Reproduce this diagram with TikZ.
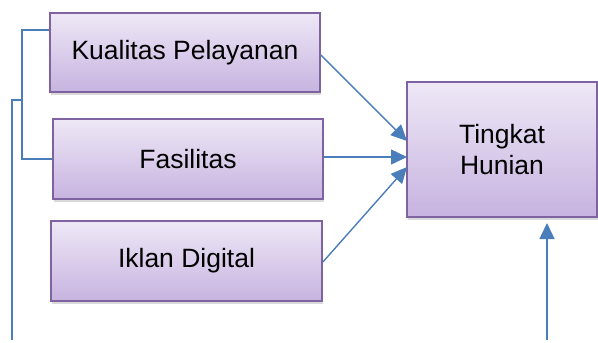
\documentclass[tikz,border=0pt]{standalone}
\usepackage{fontspec}
\setmainfont{Liberation Sans}
\usetikzlibrary{arrows.meta,shadows}
\definecolor{lineblue}{HTML}{4A7EBB}
\definecolor{boxborder}{HTML}{7F63A1}
\definecolor{boxtop}{HTML}{EEE8F6}
\definecolor{boxbot}{HTML}{C7B3E0}
\tikzset{
  varbox/.style={draw=boxborder, line width=1.8pt, top color=boxtop, bottom color=boxbot,
    drop shadow={shadow xshift=1pt, shadow yshift=-2.5pt, opacity=0.3},
    font=\fontsize{26.5}{31}\selectfont, align=center, inner sep=0pt},
  conn/.style={draw=lineblue, line width=1.4pt},
  arr/.style={conn, -{Triangle[length=16pt,width=15pt]}}
}
\begin{document}
\begin{tikzpicture}[x=1pt,y=-1pt]
\useasboundingbox (0,0) rectangle (598,343);
\node[varbox, minimum width=270pt, minimum height=79pt] (kp) at (185,52.5) {Kualitas Pelayanan};
\node[varbox, minimum width=270pt, minimum height=80pt] (fa) at (188,159) {Fasilitas};
\node[varbox, minimum width=271pt, minimum height=80pt] (id) at (186.5,261) {Iklan Digital};
\node[varbox, minimum width=190pt, minimum height=135pt] (th) at (502,149.5) {Tingkat\\Hunian};
% bracket
\coordinate (b1) at (22,30);
\coordinate (b2) at (22,159);
\coordinate (bj) at (22,100);
\coordinate (e1) at (12,100);
\coordinate (e2) at (12,340);
\draw[conn] (kp.west |- b1) -- (b1) -- (b2) -- (fa.west |- b2);
\draw[conn] (bj) -- (e1) -- (e2);
% arrows
\coordinate (t1) at (407,141);
\coordinate (t2) at (407,157);
\coordinate (t3) at (407,167);
\draw[arr] (kp.east |- 0,55) -- (t1);
\draw[arr] (fa.east |- t2) -- (t2);
\draw[arr] (id.east |- 0,262) -- (t3);
\coordinate (vb) at (547,340);
\coordinate (vt) at (547,223);
\draw[arr] (vb) -- (vt);
\end{tikzpicture}
\end{document}
